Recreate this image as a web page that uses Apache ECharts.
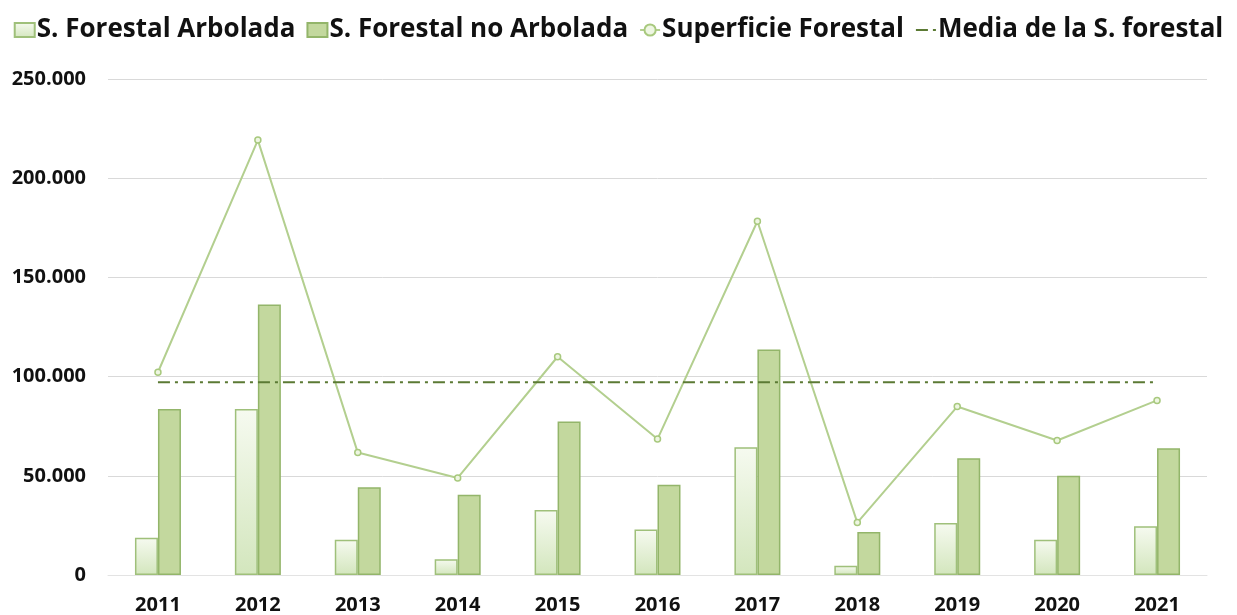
<!DOCTYPE html>
<html>
<head>
<meta charset="utf-8">
<script src="https://cdn.jsdelivr.net/npm/echarts@6/dist/echarts.min.js"></script>
<style>
  html, body { margin: 0; padding: 0; background: #fff; }
  #chart { width: 1237px; height: 615px; }
</style>
</head>
<body>
<div id="chart"></div>
<script>
// datos
const years = ['2011', '2012', '2013', '2014', '2015', '2016', '2017', '2018', '2019', '2020', '2021']
const arbolada = [18800, 83700, 17800, 8000, 32800, 22900, 64400, 4700, 26200, 17800, 24600]
const noArbolada = [83700, 136400, 44200, 40400, 77400, 45500, 113700, 21700, 58900, 50000, 63900]
const superficie = [102200, 219200, 61700, 48900, 110000, 68500, 178300, 26400, 84900, 67800, 88000]
const media = [97200, 97200, 97200, 97200, 97200, 97200, 97200, 97200, 97200, 97200, 97200]

const fmt = v => String(v).replace(/\B(?=(\d{3})+(?!\d))/g, '.')

const chart = echarts.init(document.getElementById('chart'))
chart.setOption({
  animation: false,
  textStyle: { fontFamily: 'Open Sans' },
  legend: {
    top: 12,
    left: 'center',
    itemGap: 11,
    itemWidth: 20,
    itemHeight: 14,
    textStyle: { fontSize: 26, fontWeight: 'bold', color: '#111', fontFamily: 'Open Sans', padding: [0, 0, 0, -3] },
    data: [
      { name: 'S. Forestal Arbolada', icon: 'rect' },
      { name: 'S. Forestal no Arbolada', icon: 'rect' },
      { name: 'Superficie Forestal', itemStyle: { color: '#eef6e2', borderColor: '#a8c97e' } },
      { name: 'Media de la S. forestal', itemStyle: { opacity: 0 } }
    ]
  },
  grid: { left: 108, right: 30, top: 79, bottom: 40 },
  xAxis: {
    type: 'category',
    data: years,
    axisLine: { lineStyle: { color: '#e3e3e3' } },
    axisTick: { show: false },
    axisLabel: { fontSize: 20, fontWeight: 'bold', color: '#111', margin: 20 }
  },
  yAxis: {
    type: 'value',
    min: 0,
    max: 250000,
    interval: 50000,
    axisLine: { show: false },
    axisTick: { show: false },
    splitLine: { lineStyle: { color: '#d9d9d9' } },
    axisLabel: { fontSize: 20, fontWeight: 'bold', color: '#111', margin: 22, formatter: fmt }
  },
  series: [
    {
      name: 'S. Forestal Arbolada',
      type: 'bar',
      data: arbolada,
      barWidth: 23,
      barGap: '0%',
      itemStyle: {
        color: new echarts.graphic.LinearGradient(0, 0, 0, 1, [
          { offset: 0, color: '#f6faf0' },
          { offset: 1, color: '#d3e6bd' }
        ]),
        borderColor: '#9fc07a',
        borderWidth: 1.5
      }
    },
    {
      name: 'S. Forestal no Arbolada',
      type: 'bar',
      data: noArbolada,
      barWidth: 23,
      barGap: '0%',
      itemStyle: { color: '#c3d89e', borderColor: '#93b56a', borderWidth: 1.5 }
    },
    {
      name: 'Superficie Forestal',
      type: 'line',
      data: superficie,
      symbol: 'circle',
      symbolSize: 6,
      lineStyle: { color: '#b3cf8f', width: 2 },
      itemStyle: { color: '#eef6e2', borderColor: '#a8c97e', borderWidth: 1.5 },
      z: 3
    },
    {
      name: 'Media de la S. forestal',
      type: 'line',
      data: media,
      symbol: 'none',
      lineStyle: { color: '#5b7a34', width: 2, type: [12, 5, 3, 5] },
      itemStyle: { color: '#5b7a34' },
      z: 4
    }
  ]
})
</script>
</body>
</html>
